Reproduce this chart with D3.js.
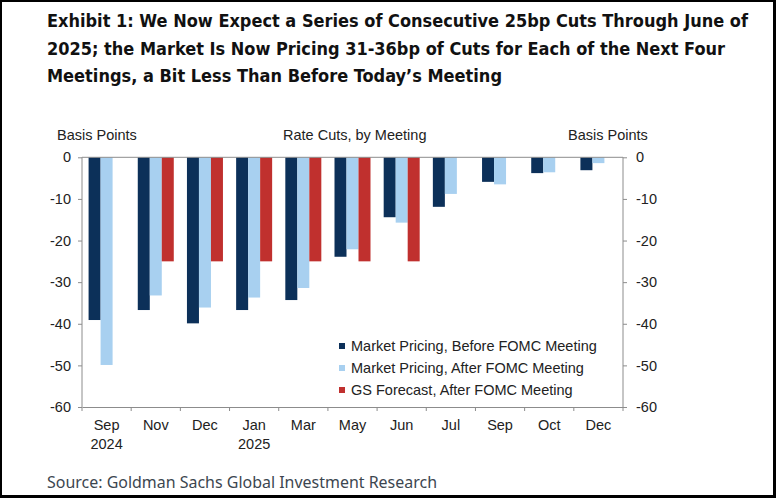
<!DOCTYPE html>
<html><head><meta charset="utf-8">
<script src="https://cdn.jsdelivr.net/npm/d3@7"></script>
<style>
html,body{margin:0;padding:0;background:#fff;}
svg{display:block;}
</style></head>
<body>
<svg id="chart" width="776" height="498"></svg>
<script>
const categories = ["Sep","Nov","Dec","Jan","Mar","May","Jun","Jul","Sep","Oct","Dec"];
const yearLabels = ["2024","","","2025","","","","","","",""];
const beforeFOMC = [-39.1,-36.7,-39.9,-36.7,-34.3,-23.9,-14.4,-11.9,-5.9,-3.8,-3.1];
const afterFOMC  = [-49.9,-33.2,-36.1,-33.7,-31.4,-22.1,-15.7,-8.8,-6.5,-3.6,-1.4];
const gsForecast = [null,-25,-25,-25,-25,-25,-25,null,null,null,null];
const seriesNames = ["Market Pricing, Before FOMC Meeting","Market Pricing, After FOMC Meeting","GS Forecast, After FOMC Meeting"];
const yTicks = [0,-10,-20,-30,-40,-50,-60];
const titleLines = [
  "Exhibit 1: We Now Expect a Series of Consecutive 25bp Cuts Through June of",
  "2025; the Market Is Now Pricing 31-36bp of Cuts for Each of the Next Four",
  "Meetings, a Bit Less Than Before Today\u2019s Meeting"
];
const sourceText = "Source: Goldman Sachs Global Investment Research";

(function(){
const colors = ["#0c3059","#a8d0f0","#c0302e"];
const svg = d3.select("#chart");
const W = 776, H = 498;

svg.append("rect").attr("x",0).attr("y",0).attr("width",W).attr("height",H).attr("fill","#fff");
svg.append("path").attr("d",`M1,1 H${W-1.5} V${H-1.5} H1 Z`).attr("fill","none").attr("stroke","#000").attr("stroke-width",2);
svg.append("rect").attr("x",W-3).attr("y",0).attr("width",3).attr("height",H).attr("fill","#000");
svg.append("rect").attr("x",0).attr("y",H-3).attr("width",W).attr("height",3).attr("fill","#000");

const titleFont = "'DejaVu Sans Condensed','Liberation Sans Narrow','Arial Narrow',sans-serif";
const titleWidths = [701, 678, 455];
const titleBase = [27, 54.5, 82];
titleLines.forEach((t,i)=>{
  svg.append("text").attr("x",47).attr("y",titleBase[i])
    .attr("font-family",titleFont).attr("font-weight","bold").attr("font-size",18.5)
    .attr("fill","#111").attr("textLength",titleWidths[i]).attr("lengthAdjust","spacingAndGlyphs")
    .text(t);
});

const pL = 82, pR = 623, pT = 157.3, pB = 407;
const x = d3.scaleBand().domain(d3.range(categories.length)).range([pL,pR]).paddingInner(0).paddingOuter(0);
const y = d3.scaleLinear().domain([-60,0]).range([pB,pT]);
const barW = 12;
const offset = (x.bandwidth() - 3*barW)/2;

const labelFont = "'Liberation Sans',Arial,sans-serif";
const fs = 14.5;
const textCol = "#222";
const axisCol = "#8c8c8c";

svg.append("text").attr("x",57).attr("y",140).attr("font-family",labelFont).attr("font-size",fs).attr("fill",textCol).text("Basis Points");
svg.append("text").attr("x",283).attr("y",140).attr("font-family",labelFont).attr("font-size",fs).attr("fill",textCol).text("Rate Cuts, by Meeting");
svg.append("text").attr("x",568).attr("y",140).attr("font-family",labelFont).attr("font-size",fs).attr("fill",textCol).text("Basis Points");

const series = [beforeFOMC, afterFOMC, gsForecast];
series.forEach((vals,s)=>{
  svg.append("g").selectAll("rect").data(vals.map((v,i)=>({v,i})).filter(d=>d.v!==null))
    .join("rect")
    .attr("x",d=>x(d.i)+offset+s*barW)
    .attr("y",d=>y(0))
    .attr("width",barW)
    .attr("height",d=>y(d.v)-y(0))
    .attr("fill",colors[s]);
});

const fmt = d=>String(d);
const yLeft = d3.axisLeft(y).tickValues(yTicks).tickSize(4).tickFormat(fmt);
const gl = svg.append("g").attr("transform",`translate(${pL},0)`).call(yLeft);
const yRight = d3.axisRight(y).tickValues(yTicks).tickSize(4).tickFormat(fmt);
const gr = svg.append("g").attr("transform",`translate(${pR},0)`).call(yRight);
[gl,gr].forEach(g=>{
  g.select(".domain").attr("stroke",axisCol).attr("d",`M0,${pT}V${pB}`);
  g.selectAll(".tick line").attr("stroke",axisCol);
  g.selectAll(".tick text").attr("font-family",labelFont).attr("font-size",fs).attr("fill",textCol);
});
gl.selectAll(".tick text").attr("x",-11);
gr.selectAll(".tick text").attr("x",13);

svg.append("line").attr("x1",pL).attr("x2",pR).attr("y1",y(0)).attr("y2",y(0)).attr("stroke",axisCol);

const xb = d3.axisBottom(x).tickSize(0).tickFormat(i=>categories[i]);
const gb = svg.append("g").attr("transform",`translate(0,${pB})`).call(xb);
gb.select(".domain").attr("stroke",axisCol);
gb.selectAll(".tick text").attr("font-family",labelFont).attr("font-size",fs).attr("fill",textCol).attr("dy",null).attr("y",23);
gb.selectAll(".tick").each(function(i){
  if(yearLabels[i]) d3.select(this).append("text").attr("y",42).attr("text-anchor","middle")
    .attr("font-family",labelFont).attr("font-size",fs).attr("fill",textCol).text(yearLabels[i]);
});
const bounds = d3.range(categories.length+1).map(i=> i<categories.length ? x(i) : pR);
svg.append("g").selectAll("line").data(bounds).join("line")
  .attr("x1",d=>d).attr("x2",d=>d).attr("y1",pB).attr("y2",pB+4).attr("stroke",axisCol);

const legY = [346, 368, 390];
seriesNames.forEach((n,i)=>{
  svg.append("rect").attr("x",339).attr("y",legY[i]-3).attr("width",6).attr("height",6).attr("fill",colors[i]);
  svg.append("text").attr("x",351).attr("y",legY[i]+5).attr("font-family",labelFont).attr("font-size",fs).attr("fill",textCol).text(n);
});

svg.append("text").attr("x",47).attr("y",488).attr("font-family","'Noto Sans','Open Sans',sans-serif").attr("font-size",17)
  .attr("fill","#3c4650").attr("textLength",390).attr("lengthAdjust","spacingAndGlyphs").text(sourceText);
})();
</script>
</body></html>
